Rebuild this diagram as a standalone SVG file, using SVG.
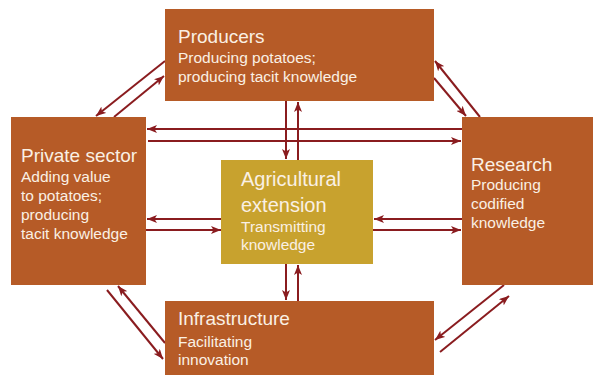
<svg xmlns="http://www.w3.org/2000/svg" width="593" height="376" viewBox="0 0 593 376">
<defs>
<style>
.box{fill:#B65B27}
.ext{fill:#C8A22E}
.t{font-family:"Liberation Sans",Arial,sans-serif;fill:#FAF0E4}
.h{font-size:19px}
.h2{font-size:20px}
.s{font-size:15.5px}
.c line{stroke:#8A1C1F;stroke-width:2;marker-end:url(#ah)}
</style>
<marker id="ah" viewBox="0 0 10 8" markerWidth="10" markerHeight="8" refX="10" refY="4" orient="auto" markerUnits="userSpaceOnUse">
<path d="M0,0 L10,4 L0,8 L2.5,4 z" fill="#8A1C1F"/>
</marker>
</defs>
<rect width="593" height="376" fill="#FFFFFF"/>
<g id="connectors" class="c">
<line x1="165" y1="61" x2="96" y2="116"/>
<line x1="114" y1="117" x2="164" y2="76"/>
<line x1="462" y1="129" x2="147" y2="129"/>
<line x1="148" y1="141" x2="461" y2="141"/>
<line x1="286" y1="101" x2="286" y2="159"/>
<line x1="298" y1="160" x2="298" y2="102"/>
<line x1="434" y1="78" x2="466" y2="116"/>
<line x1="480" y1="117" x2="435" y2="61"/>
<line x1="221" y1="219" x2="147" y2="219"/>
<line x1="146" y1="230" x2="221" y2="230"/>
<line x1="462" y1="219" x2="374" y2="219"/>
<line x1="373" y1="230" x2="461" y2="230"/>
<line x1="286" y1="264" x2="286" y2="300"/>
<line x1="298" y1="301" x2="298" y2="265"/>
<line x1="107" y1="290" x2="163" y2="359"/>
<line x1="165" y1="343" x2="118" y2="286"/>
<line x1="504" y1="285" x2="435" y2="340"/>
<line x1="440" y1="352" x2="509" y2="296"/>
</g>
<g id="producers">
<rect class="box" x="165" y="9" width="269" height="92"/>
<text class="t h" x="178" y="43">Producers</text>
<text class="t s" x="178" y="63">Producing potatoes;</text>
<text class="t s" x="178" y="82">producing tacit knowledge</text>
</g>
<g id="private-sector">
<rect class="box" x="11" y="117" width="135" height="168"/>
<text class="t h" x="21" y="162">Private sector</text>
<text class="t s" x="21" y="182">Adding value</text>
<text class="t s" x="21" y="201">to potatoes;</text>
<text class="t s" x="21" y="220">producing</text>
<text class="t s" x="21" y="239">tacit knowledge</text>
</g>
<g id="research">
<rect class="box" x="462" y="117" width="131" height="168"/>
<text class="t h" x="471" y="171">Research</text>
<text class="t s" x="471" y="190">Producing</text>
<text class="t s" x="471" y="209">codified</text>
<text class="t s" x="471" y="228">knowledge</text>
</g>
<g id="agricultural-extension">
<rect class="ext" x="221" y="160" width="152" height="104"/>
<text class="t h2" x="241" y="186">Agricultural</text>
<text class="t h2" x="241" y="212">extension</text>
<text class="t s" x="241" y="232">Transmitting</text>
<text class="t s" x="241" y="250">knowledge</text>
</g>
<g id="infrastructure">
<rect class="box" x="165" y="301" width="269" height="74"/>
<text class="t h" x="178" y="325">Infrastructure</text>
<text class="t s" x="178" y="347">Facilitating</text>
<text class="t s" x="178" y="365">innovation</text>
</g>
</svg>
